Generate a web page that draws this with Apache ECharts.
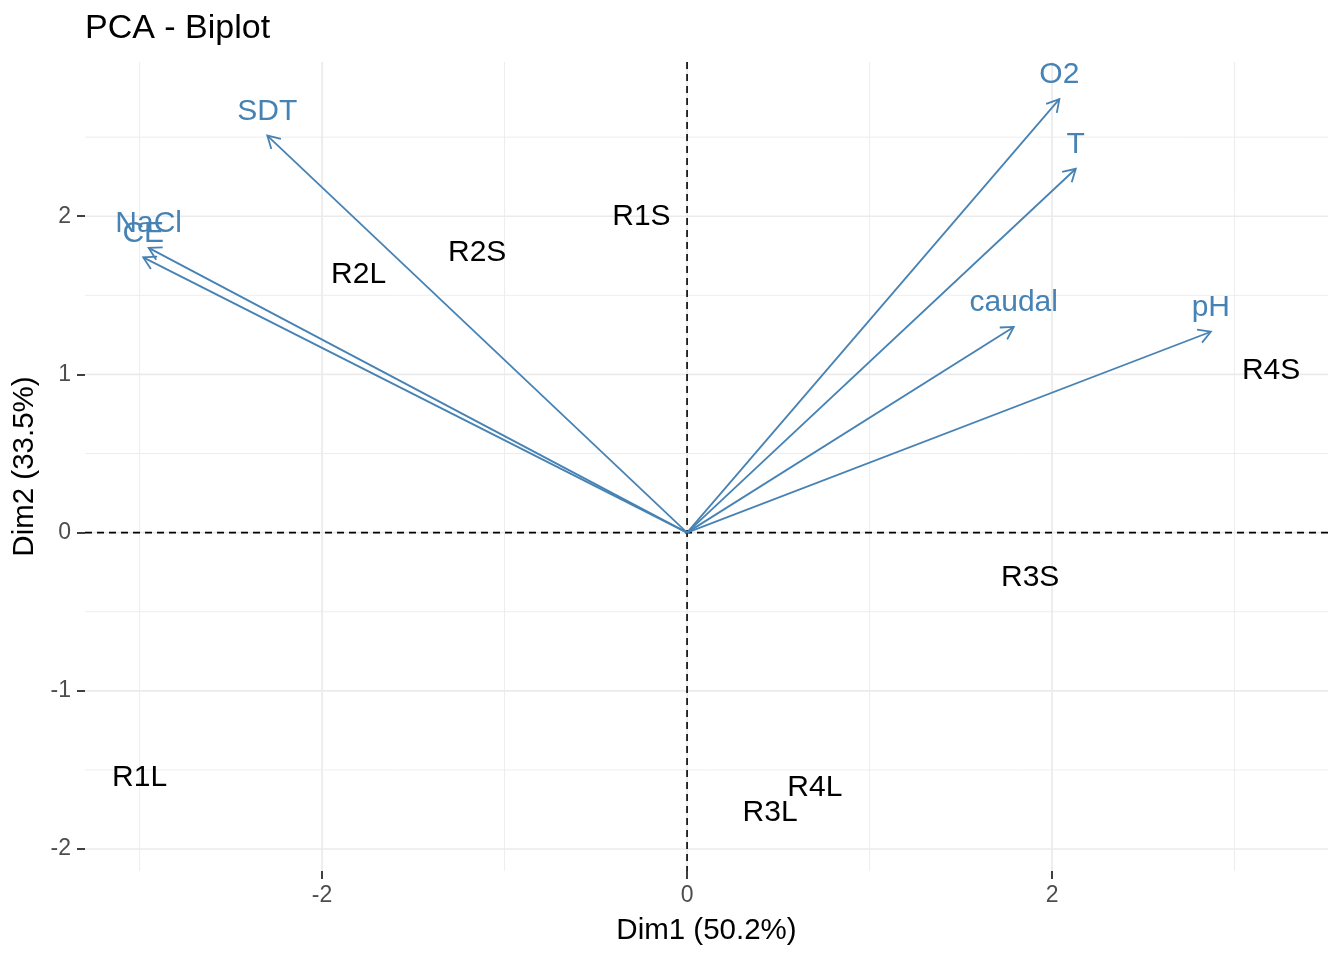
<!DOCTYPE html>
<html>
<head>
<meta charset="utf-8">
<script src="https://cdn.jsdelivr.net/npm/echarts@6/dist/echarts.min.js"></script>
<style>
  html, body { margin: 0; padding: 0; background: #ffffff; }
  #chart { width: 1344px; height: 960px; }
</style>
</head>
<body>
<div id="chart"></div>
<script>
// ---- data ----
const indNames = ['R1S', 'R2S', 'R2L', 'R1L', 'R3L', 'R4L', 'R3S', 'R4S'];
const indDim1  = [-0.25, -1.15, -1.80, -3.00, 0.455, 0.70, 1.88, 3.20];
const indDim2  = [2.01, 1.785, 1.646, -1.538, -1.76, -1.60, -0.272, 1.038];

const varNames = ['SDT', 'NaCl', 'CE', 'O2', 'T', 'caudal', 'pH'];
const varDim1  = [-2.30, -2.95, -2.98, 2.04, 2.13, 1.79, 2.87];
const varDim2  = [2.51, 1.80, 1.74, 2.74, 2.30, 1.30, 1.27];

const xTicks = [-2, 0, 2];
const yTicks = [-2, -1, 0, 1, 2];
const xMinorGrid = [-3, -1, 1, 3];
const yMinorGrid = [-1.5, -0.5, 0.5, 1.5, 2.5];

const titleText = 'PCA - Biplot';
const xName = 'Dim1 (50.2%)';
const yName = 'Dim2 (33.5%)';

// ---- styling ----
const FONT = '"Liberation Sans", Arial, sans-serif';
const VAR_COLOR = '#4682B4';
const GRID_COLOR = '#EBEBEB';
const LABEL_SIZE = 30;

const chart = echarts.init(document.getElementById('chart'), null, { renderer: 'canvas' });

// [value, isMajor]
const vGrid = xTicks.map(v => [v, 1]).concat(xMinorGrid.map(v => [v, 0]));
const hGrid = yTicks.map(v => [v, 1]).concat(yMinorGrid.map(v => [v, 0]));

const indData = indNames.map((n, i) => [indDim1[i], indDim2[i], n]);
const varData = varNames.map((n, i) => [varDim1[i], varDim2[i], n]);

function vLineSeries(data, z, styleFn) {
  return {
    type: 'custom', z: z, silent: true, clip: false,
    data: data.map(d => [d[0], 0, d[1]]),
    encode: { x: 0, y: 1 },
    renderItem: function (params, api) {
      const c = params.coordSys;
      const p = api.coord([api.value(0), 0]);
      return { type: 'line', shape: { x1: p[0], y1: c.y, x2: p[0], y2: c.y + c.height },
               style: styleFn(api.value(2)) };
    }
  };
}
function hLineSeries(data, z, styleFn) {
  return {
    type: 'custom', z: z, silent: true, clip: false,
    data: data.map(d => [0, d[0], d[1]]),
    encode: { x: 0, y: 1 },
    renderItem: function (params, api) {
      const c = params.coordSys;
      const p = api.coord([0, api.value(1)]);
      return { type: 'line', shape: { x1: c.x, y1: p[1], x2: c.x + c.width, y2: p[1] },
               style: styleFn(api.value(2)) };
    }
  };
}
const gridStyle = major => ({ stroke: GRID_COLOR, lineWidth: major ? 1.7 : 0.9 });
const zeroStyle = () => ({ stroke: '#000000', lineWidth: 1.6, lineDash: [7, 5] });

const option = {
  animation: false,
  backgroundColor: '#ffffff',
  textStyle: { fontFamily: FONT },
  graphic: [
    {
      type: 'text', left: 85, top: 12, z: 10,
      style: { text: titleText, font: '34px ' + FONT, fill: '#000000' }
    }
  ],
  grid: { left: 85, right: 16, top: 62, bottom: 89, containLabel: false },
  xAxis: {
    type: 'value', min: -3.299, max: 3.512,
    name: xName, nameLocation: 'middle', nameGap: 45,
    nameTextStyle: { fontSize: 29.5, color: '#000000', fontFamily: FONT },
    axisLine: { show: false, onZero: false },
    splitLine: { show: false },
    axisTick: { show: true, length: 8, customValues: xTicks, lineStyle: { color: '#000000', width: 1.5 } },
    axisLabel: { customValues: xTicks, margin: 13, fontSize: 23, color: '#4D4D4D', fontFamily: FONT }
  },
  yAxis: {
    type: 'value', min: -2.139, max: 2.975,
    name: yName, nameLocation: 'middle', nameGap: 40,
    nameTextStyle: { fontSize: 29.5, color: '#000000', fontFamily: FONT },
    axisLine: { show: false, onZero: false },
    splitLine: { show: false },
    axisTick: { show: true, length: 8, customValues: yTicks, lineStyle: { color: '#000000', width: 1.5 } },
    axisLabel: { customValues: yTicks, margin: 14, fontSize: 23, color: '#4D4D4D', fontFamily: FONT }
  },
  series: [
    vLineSeries(vGrid, 0, gridStyle),
    hLineSeries(hGrid, 0, gridStyle),
    vLineSeries([[0, 1]], 1, zeroStyle),
    hLineSeries([[0, 1]], 1, zeroStyle),
    {
      type: 'custom', z: 2, silent: true, clip: false,
      data: varData,
      encode: { x: 0, y: 1 },
      renderItem: function (params, api) {
        const p0 = api.coord([0, 0]);
        const p1 = api.coord([api.value(0), api.value(1)]);
        const ang = Math.atan2(p1[1] - p0[1], p1[0] - p0[0]);
        const L = 14, a = Math.PI / 6;
        const h1 = [p1[0] - L * Math.cos(ang - a), p1[1] - L * Math.sin(ang - a)];
        const h2 = [p1[0] - L * Math.cos(ang + a), p1[1] - L * Math.sin(ang + a)];
        return {
          type: 'group',
          children: [
            { type: 'line', shape: { x1: p0[0], y1: p0[1], x2: p1[0], y2: p1[1] },
              style: { stroke: VAR_COLOR, lineWidth: 1.8 } },
            { type: 'polyline', shape: { points: [h1, p1, h2] },
              style: { stroke: VAR_COLOR, lineWidth: 1.8, fill: null } },
            { type: 'text', x: p1[0], y: p1[1] - 24,
              style: { text: api.value(2), font: LABEL_SIZE + 'px ' + FONT, fill: VAR_COLOR,
                       align: 'center', verticalAlign: 'middle' } }
          ]
        };
      }
    },
    {
      type: 'custom', z: 3, silent: true, clip: false,
      data: indData,
      encode: { x: 0, y: 1 },
      renderItem: function (params, api) {
        const p = api.coord([api.value(0), api.value(1)]);
        return {
          type: 'text', x: p[0], y: p[1] + 2,
          style: { text: api.value(2), font: LABEL_SIZE + 'px ' + FONT, fill: '#000000',
                   align: 'center', verticalAlign: 'middle' }
        };
      }
    }
  ]
};

chart.setOption(option);
</script>
</body>
</html>
